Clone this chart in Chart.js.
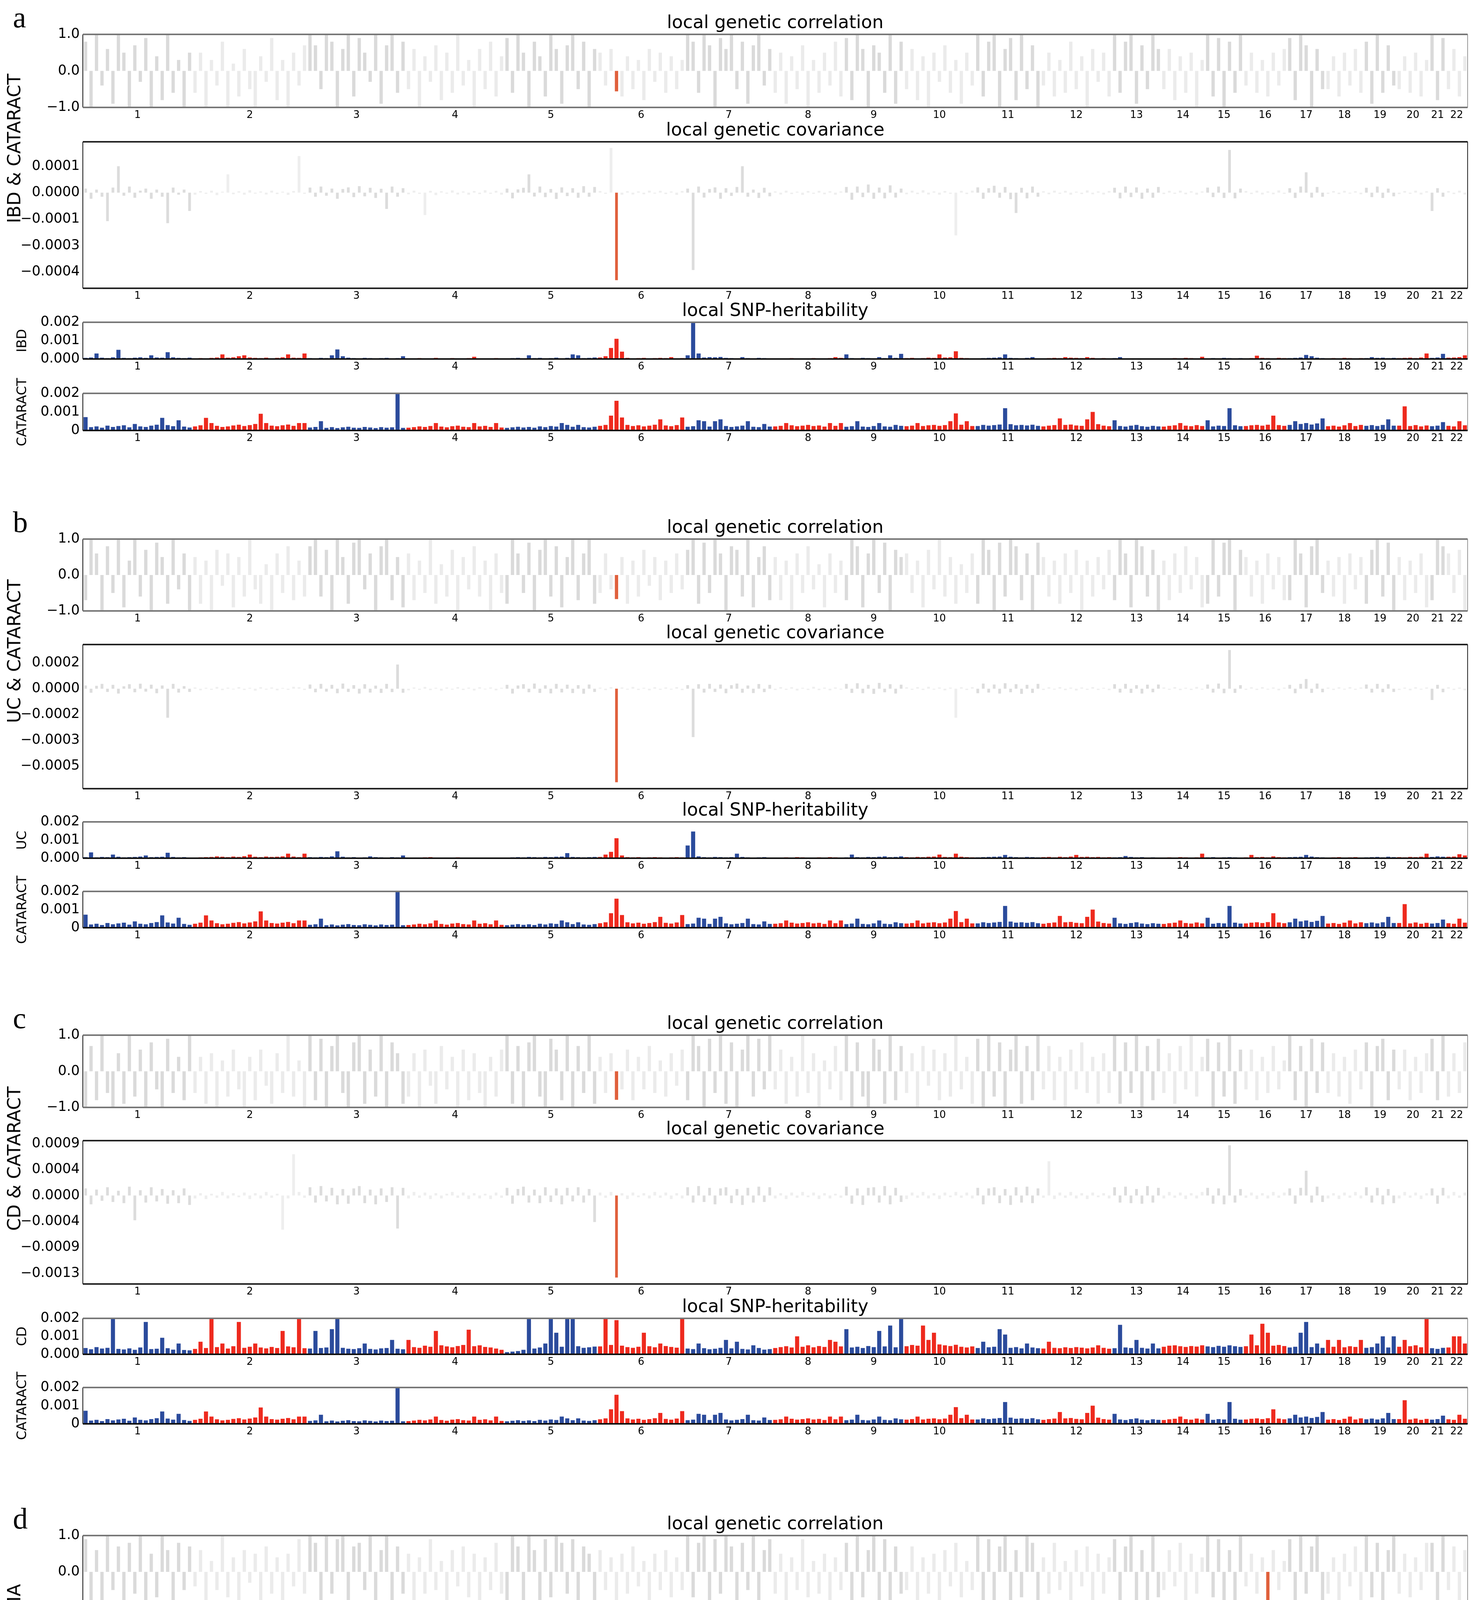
<!DOCTYPE html>
<html>
<head>
<meta charset="utf-8">
<script src="https://cdn.jsdelivr.net/npm/chart.js@4.4.1/dist/chart.umd.min.js"></script>
<style>
  html, body { margin: 0; padding: 0; background: #fff; overflow: hidden; }
  #page { position: relative; width: 3780px; height: 4984px; font-family: "DejaVu Sans", sans-serif; color: #000; }
  #page canvas { position: absolute; left: 0; }
  .ttl { position: absolute; text-align: center; font-size: 46px; line-height: 46px; white-space: nowrap; }
  .rot { position: absolute; transform: translate(-50%, -50%) rotate(-90deg); white-space: nowrap; line-height: 1; }
  .big { font-size: 46px; }
  .small { font-size: 34px; }
  .let { position: absolute; font-family: "Liberation Serif", serif; font-size: 76px; line-height: 76px; }
</style>
</head>
<body>
<div id="page"></div>
<script>
// ---- data -------------------------------------------------------------
const chromNames = ['1','2','3','4','5','6','7','8','9','10','11','12','13','14','15','16','17','18','19','20','21','22'];
const chromBins = [20,21,18,18,17,16,16,13,11,13,12,13,9,8,7,8,7,7,6,6,3,4];

// local SNP-heritability, units of 1e-4, one row per chromosome
const h2IBD = [
  [0.6,0.8,3,0.7,0.5,0.9,5,0.6,0.5,0.7,0.9,0.6,2,0.8,0.7,3.7,0.9,0.6,0.5,0.7],
  [0.4,0.5,0.3,0.6,0.8,2.5,0.7,0.9,1.5,2,0.8,0.6,0.5,0.7,0.4,0.6,0.9,2.5,0.7,0.6,3],
  [0.5,0.4,0.6,0.5,2,5.2,1.5,0.7,0.5,0.4,0.6,0.5,0.4,0.5,0.6,0.4,0.5,1.5],
  [0.3,0.4,0.5,0.3,0.4,0.6,0.4,0.3,0.5,0.4,0.3,0.5,1.2,0.4,0.3,0.4,0.5,0.3],
  [0.4,0.5,0.6,0.4,2,0.5,0.6,0.4,0.5,0.7,0.4,0.6,2.5,2,0.5,0.6,0.8],
  [0.8,1.5,6,11,4,0.6,0.4,0.5,0.6,0.4,0.5,0.6,0.5,1,0.4,0.5],
  [2,21,3,0.8,1,0.9,1.1,0.6,0.5,0.4,1,0.5,0.4,0.6,0.5,0.4],
  [0.3,0.4,0.3,0.5,0.4,0.3,0.4,0.5,0.3,0.4,0.5,1,0.6],
  [2.5,0.5,0.4,0.6,0.5,0.4,1,0.5,2,0.6,2.8],
  [0.5,0.6,0.4,0.5,0.7,0.6,2.5,0.8,0.9,4.2,0.6,0.5,0.4],
  [0.4,0.5,0.6,0.7,0.9,2.5,0.6,0.5,0.4,0.6,1,0.4],
  [0.4,0.5,0.6,0.5,1,0.7,0.6,0.5,1,0.6,0.4,0.5,0.4],
  [0.5,1,0.4,0.3,0.4,0.3,0.4,0.3,0.4],
  [0.3,0.4,0.5,0.4,0.6,0.5,0.4,1.2],
  [0.4,0.5,0.4,0.6,0.5,0.4,0.5],
  [0.4,0.5,1.8,0.6,0.5,0.4,0.6,0.5],
  [0.5,0.6,0.8,2.2,1.5,0.7,0.5],
  [0.4,0.5,0.4,0.6,0.5,0.4,0.5],
  [0.5,1,0.6,0.7,0.5,0.6],
  [0.5,0.6,0.7,0.5,0.8,3],
  [0.6,0.8,2.8],
  [0.7,0.8,1,2]
];
const h2CATARACT = [
  [7.2,1.8,2.2,1.5,2.6,1.9,2.4,2.8,1.7,3.5,2.2,1.9,2.6,3.1,6.8,2.9,2.3,5.5,2.1,1.6],
  [2.2,2.8,6.8,4,2.5,1.9,2.2,2.7,3.1,2.4,2.9,3.5,9,4,2.6,2.3,2.8,3.2,2.5,4,4],
  [1.6,1.9,5,1.4,1.8,1.3,1.7,2,1.5,1.4,1.9,1.6,1.3,1.8,1.5,1.7,21,1.4],
  [1.5,1.8,2.2,1.9,2.4,4,2.1,1.7,2.3,2.6,2,1.8,4,2.2,2.5,1.9,4,1.6],
  [1.4,1.7,2,1.6,1.9,1.5,2.2,1.8,2.4,2.1,4,3,2,3,1.8,1.6,2],
  [2.5,3,8,16,7,3,2.4,2.8,2.2,2.6,3.1,6,2.7,2.3,2.9,7],
  [2,2.3,5.5,5,2.1,5,6,2.4,1.9,2.2,2.6,5,2,1.8,3.5,2.1],
  [2.2,2.5,4,2.8,2.3,2.6,3,2.4,2.7,2.1,4,2.5,4],
  [2,2.3,5,2.1,1.9,2.4,4,2.2,2,3,2.5],
  [2.3,2.6,4,2.4,2.8,3,2.5,2.9,5,9.2,3.1,5,2.4],
  [2.4,3,2.6,2.9,3.2,12,3.4,2.8,3,2.7,3.1,2.5],
  [2.2,2.6,2.9,6.5,3,3.2,2.7,2.5,6,10,3.4,2.6,2.3],
  [5.5,2.4,2.1,2.6,3,2.3,2,2.5,2.2],
  [2.1,2.5,2.8,4,2.6,2.3,2.9,2.4],
  [5.5,2.2,2.6,2.4,12,2.8,2.3],
  [2.4,2.8,3,2.6,3.1,8,2.9,2.5],
  [3,5,3.5,4,3.2,3.8,6.5],
  [2.3,2.6,2.1,2.8,4,2.4,3],
  [2.5,2.9,2.4,3,6,2.6],
  [2.6,13,2.4,2.9,2.2,2.7],
  [2.3,2.6,4.5],
  [2.5,2.2,5,2.8]
];
const h2UC = [
  [0.6,3.2,0.5,0.7,0.6,2,0.8,0.5,0.6,0.7,0.9,1.5,0.6,0.7,0.8,3,0.7,0.5,0.6,0.4],
  [0.4,0.5,0.6,0.7,1,0.8,0.6,0.9,0.7,1.1,2,0.8,0.6,0.9,0.7,0.8,1,2.5,0.9,0.6,2.5],
  [0.6,0.5,0.7,0.6,1,3.8,0.8,0.5,0.6,0.4,0.5,1,0.6,0.5,0.4,0.6,0.5,1.5],
  [0.3,0.4,0.3,0.5,0.6,0.4,0.3,0.4,0.3,0.5,0.4,0.3,0.4,0.3,0.4,0.3,0.4,0.3],
  [0.4,0.5,0.6,0.5,0.7,0.6,0.5,0.7,0.6,0.8,0.9,2.8,0.7,0.6,0.5,0.6,0.7],
  [0.7,2,3.5,11,1.5,0.6,0.5,0.6,0.4,0.5,0.6,0.5,0.4,0.5,0.6,0.5],
  [7,14.7,1,0.6,0.5,0.7,0.6,0.5,0.6,2.5,0.7,0.5,0.4,0.5,0.6,0.4],
  [0.3,0.4,0.5,0.4,0.6,0.5,0.4,0.3,0.5,0.4,0.6,0.5,0.4],
  [0.5,2,0.6,0.5,0.7,0.6,0.8,1,0.6,0.7,1],
  [0.6,0.5,0.7,0.6,0.8,0.9,2,0.7,0.6,2.5,0.8,0.6,0.5],
  [0.5,0.6,0.7,0.8,0.9,1.8,0.8,0.6,0.5,0.7,0.6,0.5],
  [0.6,0.7,0.5,0.8,0.6,0.9,1.8,0.7,0.8,0.6,0.7,0.5,0.6],
  [0.5,0.6,1.2,0.7,0.5,0.6,0.4,0.5,0.4],
  [0.4,0.5,0.4,0.6,0.5,0.4,0.5,2.5],
  [0.5,0.6,0.4,0.5,0.6,0.5,0.4],
  [0.5,1.8,0.6,0.7,0.5,1,0.6,0.5],
  [0.6,0.7,0.8,1.8,0.9,0.6,0.5],
  [0.4,0.5,0.6,0.4,0.5,0.6,0.4],
  [0.5,0.6,0.7,0.5,0.8,0.6],
  [0.6,0.5,0.7,0.6,0.8,2.5],
  [0.7,1,0.8],
  [0.8,0.9,2.2,1.5]
];
const h2CD = [
  [3.5,2.8,4,3.2,3.6,22,3,2.7,3.3,2.5,3.8,18,2.9,3.1,9.2,3.4,2.6,6,2.4,2.2],
  [3,7,3.5,22,4,6,3.2,4.5,18,3.6,4.2,6,3.8,3.3,4.1,3.5,13,4.4,3.9,22,3.4],
  [3.2,13,3.5,3.8,14,22,3.6,3.1,2.9,3.4,6,3,2.7,3.3,3.5,8,3.1,2.8],
  [8,4,3.6,4.8,4.2,13,5,4.4,3.9,4.6,5.2,13.7,4.5,5,4.1,3.8,3.2,2.5],
  [1.2,1.5,1.8,2.5,22,3.2,3.8,6,22,12,4.2,22,22,4.5,3.6,3.9,4.3],
  [4.4,22,5.2,19,4.8,4,3.6,4.2,12,4.5,3.9,6,4.6,4.1,3.7,22],
  [3.2,2.9,6,3.4,2.8,3.1,3.6,8,3.3,7,3,2.7,5,3.5,2.6,2.9],
  [3.5,4,4.5,3.8,10,4.2,5,3.9,4.6,4.1,8,7,4.4],
  [14,3.8,4.2,3.5,4.6,4,13,4.4,16,3.9,22],
  [4.5,5.2,4.8,16,8,12,5.5,5,4.6,5.3,4.2,3.8,4.4],
  [3.5,7,3.9,4.2,14,11,3.6,4,3.3,6,3.8,3.4],
  [3.2,7,3.6,3.4,3.9,3.5,4,3.7,3.3,3.8,5,3.6,3.1],
  [3.4,16.4,3.8,3.5,8,3.6,3.2,6,3.3],
  [4.2,4.8,5,4.5,4.1,4.6,4.3,5],
  [4.4,4,4.7,4.2,5,4.5,4.1],
  [4.5,11,5,17,12,4.8,5.2,4.6],
  [3.8,4.2,12,18,4,6,3.6],
  [8,4.2,8,3.9,4.5,4.1,8],
  [3.6,4,6,10,3.8,10],
  [4.2,8,4.5,5,3.9,22],
  [3.4,3,3.6],
  [3.8,10,10,6]
];
const h2GLAUCOMA = [
  [2,0.8,0.6,0.9,0.7,1,0.8,6.5,0.7,0.9,1.1,9.1,0.8,0.6,0.9,0.7,1,0.6,0.5,0.7],
  [0.6,2,0.8,0.7,0.9,0.6,1,0.8,0.7,2,0.9,0.6,0.8,1,0.7,0.9,0.6,0.8,0.7,3,0.6],
  [0.7,0.9,1.1,0.8,1,4,1.2,0.9,1,5,0.8,0.7,0.9,0.6,0.8,0.7,0.9,0.6],
  [0.8,5.7,0.9,0.7,1,0.8,0.6,0.9,0.7,0.8,1,0.6,0.7,0.9,0.5,0.6,0.8,0.5],
  [0.6,0.7,0.5,0.8,0.9,3,1,0.7,0.8,0.6,0.9,0.7,1,0.8,0.6,0.7,0.9],
  [6,0.9,0.8,1,0.7,0.9,1.1,0.8,0.7,0.9,0.6,0.8,1,0.7,0.6,0.8],
  [0.7,0.8,2,0.6,0.9,0.7,0.8,0.6,0.9,0.7,3,0.8,0.6,0.5,0.7,0.6],
  [1.2,1.5,1.3,1.1,1.4,2,1.6,1.2,1.3,1.5,1.1,1.4,1],
  [0.8,0.9,12.9,0.7,1,0.8,0.9,5,1.1,0.8,0.7],
  [0.9,1,0.8,1.1,0.9,1,6,1.2,0.8,0.9,1,0.7,0.8],
  [0.8,0.9,1,0.7,3,1.1,0.9,0.8,1,0.7,0.9,0.8],
  [0.9,1,0.8,1.1,0.9,1.2,1,10,4,1.1,0.9,0.8,0.7],
  [0.7,0.8,2,0.9,0.7,0.8,0.6,0.7,0.8],
  [0.8,0.9,0.7,8.2,1,0.8,0.9,0.7],
  [0.6,0.8,0.7,0.9,3,1.2,0.7],
  [0.7,0.8,0.9,0.7,5,0.8,0.9,4.5],
  [0.9,4,1,0.8,0.9,0.7,0.8],
  [0.6,0.7,0.5,0.8,0.6,0.7,0.5],
  [0.7,2,0.8,0.6,0.9,0.7],
  [4.5,0.8,0.7,0.9,0.6,0.8],
  [0.7,0.9,0.8],
  [2,8.5,1.2,0.9]
];

// local genetic correlation
const rgIBDxCAT = [
  [0.8,-1,1,-0.4,0.6,-0.9,1,0.5,-1,0.7,-0.3,0.9,-1,0.4,-0.8,1,-0.6,0.3,-1,0.5],
  [-0.6,0.5,-1,0.3,-0.4,0.8,-1,0.2,-0.7,0.6,-0.5,-1,0.4,-0.3,0.9,-0.8,0.3,-1,0.5,-0.4,0.7],
  [1,0.7,-0.5,1,0.8,-1,0.6,1,-0.7,0.9,0.5,-0.3,1,-0.9,0.7,1,-0.6,0.8],
  [-0.5,0.6,-1,0.4,-0.3,0.7,-0.8,0.5,-0.6,1,-0.4,0.3,-1,0.6,-0.5,0.8,-0.7,0.4],
  [0.9,-0.6,1,0.5,-1,0.8,0.4,-0.7,1,0.6,-0.9,0.7,1,-0.5,0.8,-1,0.6],
  [0.5,-0.4,0.6,-0.56,-0.7,0.4,-0.5,0.3,-0.8,0.6,-0.3,0.5,-0.6,0.4,-0.5,0.3],
  [1,0.8,-0.6,1,0.7,-1,0.9,0.6,1,-0.5,0.8,-0.9,0.7,1,-0.4,0.6],
  [-0.6,0.5,-0.9,0.4,-0.5,0.7,-1,0.3,-0.6,0.5,-0.4,0.8,-0.7],
  [0.9,-0.8,1,0.6,-1,0.7,0.5,-0.6,1,-0.9,0.8],
  [-0.5,0.6,-0.8,0.4,-1,0.5,-0.3,0.7,-0.6,0.3,-0.9,0.5,-0.4],
  [1,-0.7,0.8,1,-1,0.6,0.9,-0.8,1,-0.5,0.7,-1],
  [-0.4,0.5,-0.7,0.3,-0.6,0.8,-0.5,0.4,-1,0.6,-0.3,0.5,-0.7],
  [1,-0.6,0.8,1,-0.9,0.7,-0.5,1,0.6],
  [-0.5,0.6,-0.8,0.4,-0.6,0.5,-1,0.3],
  [1,-0.7,0.9,-1,0.8,-0.6,1],
  [-0.4,0.5,-0.6,0.3,-0.7,0.5,-0.4,0.6],
  [0.9,-0.8,1,0.7,-1,0.6,-0.5],
  [-0.5,0.4,-0.7,0.5,-0.4,0.6,-0.6],
  [0.8,-0.9,1,-0.6,0.7,-0.4],
  [-0.5,0.4,-0.6,0.5,-0.7,0.3],
  [1,-0.8,0.9],
  [-0.5,0.6,-0.7,0.4]
];
const rgUCxCAT = [
  [-0.7,1,0.6,-1,0.8,-0.5,1,-0.9,0.4,1,-0.6,0.7,-1,0.9,0.5,-0.8,1,-0.4,0.6,-1],
  [0.5,-0.8,0.4,-1,0.7,-0.3,0.6,-0.9,0.5,-0.6,1,-0.4,-0.8,0.3,-1,0.6,-0.5,0.8,-0.7,0.4,-0.6],
  [0.8,1,-0.6,0.7,-1,1,0.5,-0.8,0.9,1,-0.4,0.6,-1,0.8,1,-0.7,0.5,-0.9],
  [0.6,-0.7,0.4,-0.5,1,-0.8,0.3,-0.6,0.7,-1,0.5,-0.4,0.8,-0.6,0.4,-1,0.6,-0.5],
  [-0.8,1,0.6,-0.5,0.9,-1,0.7,1,-0.6,0.8,-0.9,0.5,1,-0.7,0.6,1,-0.8],
  [-0.5,0.6,-0.4,-0.67,0.5,-0.8,0.4,-0.6,0.7,-0.3,0.5,-0.7,0.4,-0.5,0.6,-0.4],
  [0.7,1,-0.8,0.9,-0.5,1,0.6,-1,0.8,0.7,-0.6,1,-0.9,0.5,0.8,-0.7],
  [0.5,-0.7,0.4,-1,0.6,-0.5,0.8,-0.4,0.3,-0.9,0.6,-0.5,0.4],
  [-0.7,1,0.8,-0.9,0.6,1,-0.5,0.9,-1,0.7,0.5],
  [0.6,-0.5,0.4,-0.9,0.7,-0.4,1,-0.6,0.5,-0.8,0.3,-0.5,0.6],
  [-0.8,1,0.7,-1,0.9,-0.6,1,0.8,-0.7,0.6,-1,0.9],
  [0.5,-0.6,0.4,-0.8,0.6,-0.5,0.7,-1,0.4,-0.6,0.5,-0.4,0.7],
  [-0.7,1,0.6,-0.9,1,0.8,-0.6,0.7,-1],
  [0.4,-0.7,0.6,-0.5,0.8,-0.4,0.5,-0.9],
  [-0.8,1,-0.6,0.9,1,-1,0.7],
  [0.5,-0.6,0.4,-0.8,0.6,-0.4,0.5,-0.7],
  [-0.7,1,0.6,-0.9,0.8,1,-0.5],
  [0.4,-0.6,0.5,-0.8,0.6,-0.4,0.5],
  [-0.8,0.7,1,-0.6,0.9,-1],
  [0.5,-0.7,0.4,-0.5,0.6,-0.9],
  [-0.7,1,0.8],
  [0.6,-0.5,0.7,-1]
];
const rgCDxCAT = [
  [-1,0.7,-0.8,1,-0.6,-1,0.5,-0.9,1,-0.7,0.6,-1,0.8,-0.5,-1,0.9,-0.6,0.4,-0.8,1],
  [-0.6,0.4,-0.9,0.5,-1,0.3,-0.7,0.6,-0.5,-1,0.4,-0.8,0.6,-0.4,-0.9,0.5,-0.6,1,-0.7,0.3,-1],
  [1,-0.8,0.9,-1,0.7,1,-0.6,-1,0.8,1,-0.9,0.6,-0.7,1,-1,0.8,0.5,-0.9],
  [-0.7,0.5,-1,0.6,-0.4,-0.9,0.7,-0.5,0.4,-1,0.6,-0.8,0.5,-0.6,-1,0.4,-0.7,0.6],
  [1,-0.9,0.7,-1,0.8,1,-0.7,-1,0.9,0.6,-0.8,1,-1,0.7,-0.6,1,-0.9],
  [0.4,-0.6,0.5,-0.79,-0.5,0.6,-0.8,0.4,-0.5,0.7,-0.6,0.3,-0.7,0.5,-0.4,0.6],
  [-0.8,1,0.7,-1,0.9,-0.6,1,-0.9,0.8,-1,0.6,1,-0.7,0.9,-0.5,1],
  [-0.5,0.6,-0.9,0.4,-0.7,1,-0.6,0.5,-1,0.3,-0.5,0.7,-0.8],
  [1,-1,0.8,-0.7,-1,0.9,0.6,-0.9,1,-0.8,0.7],
  [-0.6,0.5,-1,0.7,-0.4,0.6,-0.8,0.5,-0.7,1,-0.5,0.4,-0.9],
  [0.9,-1,1,-0.7,0.8,-1,0.6,1,-0.9,0.7,-0.8,1],
  [-0.5,0.7,-0.8,0.4,-1,0.6,-0.5,0.8,-0.6,0.4,-0.9,0.5,-0.6],
  [1,-0.9,0.8,-0.6,1,-1,0.7,-0.8,0.9],
  [-0.6,0.5,-0.9,0.7,-0.5,1,-0.7,0.4],
  [0.9,-1,0.8,-0.7,1,-0.9,0.6],
  [-0.5,0.6,-0.8,0.4,-0.6,0.7,-0.5,0.3],
  [1,-0.8,0.7,-1,0.9,-0.6,0.8],
  [-0.6,0.5,-0.7,0.4,-0.9,0.6,-0.5],
  [0.8,-1,0.7,0.9,-0.8,0.6],
  [-0.5,0.6,-0.8,0.4,-0.6,0.5],
  [0.9,-0.8,1],
  [-0.7,0.5,-0.6,0.8]
];
const rgCDxGLA = [
  [0.9,-1,0.6,-0.8,1,-0.5,0.7,-1,0.8,-0.6,1,-0.9,0.5,-0.7,1,0.6,-1,0.8,-0.5,0.7],
  [-0.4,0.6,-0.8,0.3,-0.5,1,-0.7,0.4,-0.9,0.6,-0.3,0.5,-1,0.7,-0.6,0.4,-0.8,0.5,-0.4,0.9,-0.6],
  [1,0.8,-0.9,1,-0.6,0.9,1,-1,0.7,0.8,-0.5,1,-0.8,0.6,1,-0.9,0.7,-0.6],
  [0.5,-0.8,0.4,-0.6,0.9,-0.5,0.3,-1,0.6,-0.4,0.7,-0.7,0.5,-0.9,0.4,-0.5,0.8,-0.6],
  [-0.9,1,0.7,-0.8,1,0.6,-1,0.9,-0.7,1,0.8,-0.6,0.9,-1,0.7,0.5,-0.8],
  [0.6,-0.5,0.4,-0.8,0.5,-0.6,0.7,-0.4,0.3,-0.9,0.5,-0.5,0.6,-0.7,0.4,-0.5],
  [1,-0.7,0.8,1,-1,0.9,-0.6,1,0.7,-0.9,0.8,-0.5,1,-0.8,0.6,0.9],
  [-0.6,0.5,-0.8,0.4,-0.5,0.9,-0.7,0.3,-0.6,0.5,-1,0.4,-0.5],
  [0.8,-0.9,1,-0.7,0.6,1,-1,0.9,-0.8,0.7,-0.6],
  [-0.5,0.7,-0.9,0.4,-0.6,0.5,-1,0.6,-0.4,0.8,-0.7,0.3,-0.5],
  [1,-0.8,0.9,-1,0.7,1,-0.9,0.6,-0.7,1,0.8,-1],
  [0.4,-0.6,0.8,-0.5,0.3,-0.9,0.6,-0.4,0.7,-0.8,0.5,-0.6,0.4],
  [0.9,-1,0.7,1,-0.8,0.6,-0.9,1,-0.7],
  [-0.5,0.6,-0.4,0.8,-0.9,0.5,-0.6,0.4],
  [1,-0.7,0.9,-1,0.6,-0.8,1],
  [-0.4,0.5,-0.6,0.4,-0.95,0.6,-0.5,0.3],
  [0.9,-0.8,1,-0.6,0.7,1,-0.9],
  [-0.6,0.4,-0.8,0.5,-0.4,0.7,-1],
  [1,-0.7,0.8,-0.9,0.6,1],
  [-0.6,0.5,-0.7,0.4,-0.5,0.8],
  [0.8,-0.9,1],
  [-0.5,0.7,-0.8,0.6]
];

// local genetic covariance, units of 1e-5
const covIBDxCAT = [
  [2,-3,1.5,-2,-14,2.5,13,-1.5,3,-2.5,1,2,-3,1.5,-2,-15,2.5,-1,1.5,-9],
  [-1,0.8,-0.6,1,-1.2,0.5,9,-0.8,0.7,-1,1.2,-0.5,0.6,-0.9,1,-0.7,0.5,-1.1,0.8,18,-0.6],
  [2.5,-2,3,-1.5,2,-3,1.8,2.6,-2.2,3.2,-1.8,2.4,-2.6,1.9,-8,3,-2,2.2],
  [-0.8,1,-0.6,-11,0.9,-1.2,0.7,-0.5,1.1,-0.9,0.6,-1,0.8,-0.7,1.2,-0.6,0.9,-1],
  [2,-2.8,1.6,2.4,9,-1.9,3,-2.2,1.8,-3.1,2.6,-1.7,2.2,-2.5,3.2,-2,2.8],
  [0.8,-0.6,22,-43,-1,0.7,-0.9,0.6,-0.8,1,-0.5,0.9,-0.7,0.6,-1.1,0.8],
  [2,-38,3,-2.4,1.8,2.6,-3,2.2,-1.6,2.8,13,-2,1.5,-2.6,2.4,-1.8],
  [0.6,-0.9,1,-0.7,0.5,-1.1,0.8,-0.6,0.9,-0.8,0.7,-1,0.6],
  [2.8,-3.5,3,-2.2,4,-3,2.5,-2.8,3.6,-2.4,2],
  [-0.8,1,-0.7,1.2,-0.9,0.6,-1,0.8,-0.6,-21,0.9,-0.7,1],
  [2.6,-3,2.2,3.4,-2.5,2.8,-3.2,-10,2.4,-2.8,3,-2],
  [0.7,-0.8,1,-0.6,0.9,-1,0.5,-0.7,1.1,-0.8,0.6,-0.9,0.8],
  [2.4,-2.8,3,-2.2,2.6,-3,2,-2.5,2.8],
  [-0.7,0.9,-0.6,1,-0.8,0.7,-1,0.6],
  [2.5,-2.2,3,-2.6,21,-2.8,2],
  [0.8,-0.7,1,-0.9,0.6,-0.8,1.1,-0.6],
  [2.2,-2.6,3,10,-2.4,2.8,-2],
  [-0.6,0.8,-0.7,0.9,-0.5,0.7,-0.8],
  [2.4,-2.2,3,-2.6,2,-1.8],
  [-0.7,0.8,-0.6,1,-0.9,0.7],
  [-9,2.2,-2],
  [0.8,-0.7,1,-0.9]
];
const covUCxCAT = [
  [2,-2.5,1.8,3,-2,2.4,-3,1.5,2.8,-2.2,3.1,-1.8,2.5,-2.8,2,-18,3,-2.4,1.6,-2],
  [0.8,-1,0.6,-0.7,1.1,-0.9,0.7,-0.5,1,-0.8,0.6,-1.2,0.9,-0.6,0.8,-1,0.5,-0.7,1.2,0.9,-0.8],
  [2.6,-2.2,3,-1.8,2.4,-2.8,3.2,-2,2.2,-3,2.8,-2.4,1.9,-2.6,3,-2.1,15,-2.5],
  [-1,0.8,-0.7,1.1,-0.9,0.6,-1.2,0.8,-0.6,1,-0.8,0.7,-1.1,0.9,-0.5,0.8,-1,0.6],
  [2.4,-3,2,2.8,-2.2,3.2,-2.6,2.1,-2.9,3,-2.3,2.5,-2.7,2.2,-3.1,2.6,-2],
  [0.7,-0.9,1,-58,0.8,-0.6,1.1,-0.8,0.6,-1,0.9,-0.7,0.8,-0.6,1,-0.9],
  [2.2,-30,2.8,-2.4,3,-2,2.6,-2.8,2.2,3.2,-2.5,2,-2.7,2.9,-2.1,2.4],
  [-0.8,1,-0.7,0.9,-1.1,0.6,-0.8,1.2,-0.9,0.7,-1,0.8,-0.6],
  [3,-2.6,3.4,-2.8,2.4,-3.2,3.6,-2.2,2.8,-3,2.5],
  [0.9,-0.7,1,-0.8,1.2,-0.6,0.8,-1,0.7,-18,0.9,-0.8,1],
  [-2.8,3.2,-2.4,2.6,-3,3.4,-2.2,2.8,-3.2,2.4,-2.6,3],
  [-0.8,0.9,-0.6,1,-0.9,0.7,-1.1,0.8,-0.7,1,-0.8,0.6,-0.9],
  [2.8,-2.4,3,-2.6,2.2,-3,2.5,-2.2,2.6],
  [0.8,-0.7,1,-0.9,0.6,-0.8,1.1,-0.6],
  [2.6,-2.4,3.2,-2.8,24,-2.6,2.2],
  [-0.7,0.9,-0.8,1,-0.6,0.8,-1,0.7],
  [2.4,-2.8,3,6,-2.6,3.2,-2.2],
  [0.7,-0.8,0.9,-0.6,1,-0.7,0.8],
  [2.6,-2.4,3,-2.2,2.8,-2],
  [-0.8,0.7,-1,0.9,-0.6,0.8],
  [-7,2.4,-2.2],
  [0.9,-0.8,0.7,-1]
];
const covCDxCAT = [
  [12,-15,10,-9,14,-11,8,-13,15,-42,9,-12,14,-10,11,-14,9,-13,12,-16],
  [-5,4,-6,3,-4,6,-5,4,-3,5,-6,4,-5,6,-4,3,-58,-5,70,6,-4],
  [14,-12,16,-10,13,-15,11,-14,12,16,-13,10,-15,12,-11,14,-56,13],
  [-5,6,-4,5,-6,4,-5,3,6,-4,5,-6,4,-5,3,-6,5,-4],
  [13,-14,11,15,-12,10,-13,14,-11,12,-15,13,-10,14,-12,11,-45],
  [5,-4,6,-139,4,-6,5,-3,4,-5,6,-4,5,-6,4,-5],
  [14,-12,16,-11,13,-15,12,14,-13,11,-16,13,-12,15,-11,14],
  [-5,4,-6,5,-4,6,-3,5,-6,4,-5,3,-4],
  [15,-14,12,-16,13,14,-12,16,-15,13,-11],
  [-6,5,-4,6,-5,4,-6,5,-3,6,-4,5,-5],
  [13,-15,12,14,-13,11,-16,14,-12,15,-13,12],
  [-4,58,-6,5,-4,6,-5,4,-6,5,-3,4,-5],
  [14,-12,15,-13,11,-14,16,-12,13],
  [-5,6,-4,5,-6,4,-5,6],
  [13,-14,12,-15,85,-12,11],
  [-4,5,-6,4,-5,6,-4,5],
  [12,-14,13,42,-12,15,-11],
  [-5,4,-6,5,-4,6,-5],
  [14,-12,13,-15,11,-13],
  [-5,6,-4,5,-6,4],
  [12,-14,13],
  [-5,6,-4,5]
];
const covCDxGLA = [
  [8,-7,9,-6,7,-43,8,-9,6,-8,7,-5,9,-7,6,-8,5,-9,7,-6],
  [-3,4,-2,3,-4,2,-3,4,-2,3,-4,3,-2,4,-3,2,-4,3,-2,4,-3],
  [9,-8,7,-9,8,6,-7,9,-6,-26,8,7,-9,8,-7,6,-8,7],
  [37,-3,4,-2,3,-4,2,-3,4,-2,3,-4,2,-3,4,-2,3,-4],
  [8,-9,7,6,-8,9,-7,8,-6,7,-9,-59,8,-7,9,-8,6],
  [3,-4,2,-3,4,-2,3,-4,2,-3,4,-2,3,-4,2,-3],
  [9,-7,8,-9,6,8,-8,7,-6,9,-7,8,-9,6,-8,7],
  [-3,4,-2,3,-4,2,-3,4,-2,3,-4,2,-3],
  [8,-9,7,-8,9,-7,6,-9,8,-7,36],
  [-4,3,-2,4,-3,-35,2,50,-4,3,-2,4,-3],
  [9,-8,7,-9,8,6,-7,9,-8,7,-6,8],
  [-3,4,-2,3,-4,2,-3,4,-2,3,-4,2,-3],
  [8,-9,7,-8,9,-7,6,-8,7],
  [-4,3,-2,4,-3,2,-4,3],
  [9,-7,8,-6,9,-8,7],
  [-3,4,-2,3,-82,2,-4,3],
  [8,-7,9,-8,6,7,-9],
  [-3,4,-2,3,-4,2,-3],
  [8,-7,9,43,-8,6],
  [-3,4,-2,3,-4,2],
  [7,-42,8],
  [-3,4,-2,3]
];

// significant block per panel: [chromosome, block within chromosome]
const sigBlocks = [[6, 3], [6, 3], [6, 3], [16, 4]];

// tick values and labels
const corrTicks = [-1, 0, 1];
const corrTickLabels = ['\u22121.0', '0.0', '1.0'];
const covRanges = [[-0.00047, 0.00025], [-0.00062, 0.000274], [-0.0015, 0.00093], [-0.00089, 0.000543]];
const covTicks = [
  [-0.00039, -0.00026, -0.00013, 0, 0.00013],
  [-0.00048, -0.00032, -0.00016, 0, 0.00016],
  [-0.00132, -0.00088, -0.00044, 0, 0.00044, 0.00088],
  [-0.00078, -0.00052, -0.00026, 0, 0.00026, 0.00052]
];
const covTickLabels = [
  ['\u22120.0004', '\u22120.0003', '\u22120.0001', '0.0000', '0.0001'],
  ['\u22120.0005', '\u22120.0003', '\u22120.0002', '0.0000', '0.0002'],
  ['\u22120.0013', '\u22120.0009', '\u22120.0004', '0.0000', '0.0004', '0.0009'],
  ['\u22120.0008', '\u22120.0005', '\u22120.0003', '0.0000', '0.0003', '0.0005']
];
const h2Ticks = [0, 0.001, 0.002];
const h2TickLabelsA = ['0.000', '0.001', '0.002'];
const h2TickLabelsB = ['0', '0.001', '0.002'];

// ---- layout (pixels of the final picture) ------------------------------
const W = 3780;
const AX_L = 212, AX_R = 3756;
const PAD_T = 30, XAX_H = 50;

const panels = [
  { letter: 'a', pair: 'IBD & CATARACT', pairY: 380, corr: [88, 275], cov: [363, 738], h1: [825, 919], h2: [1007, 1102],
    rg: rgIBDxCAT, gcov: covIBDxCAT, t1: 'IBD', s1: h2IBD, l1: h2TickLabelsA, t2: 'CATARACT', s2: h2CATARACT, l2: h2TickLabelsB },
  { letter: 'b', pair: 'UC & CATARACT', pairY: 1667, corr: [1380, 1564], cov: [1650, 2019], h1: [2104, 2197], h2: [2282, 2375],
    rg: rgUCxCAT, gcov: covUCxCAT, t1: 'UC', s1: h2UC, l1: h2TickLabelsA, t2: 'CATARACT', s2: h2CATARACT, l2: h2TickLabelsB },
  { letter: 'c', pair: 'CD & CATARACT', pairY: 2966, corr: [2650, 2835], cov: [2920, 3287], h1: [3375, 3467], h2: [3552, 3645],
    rg: rgCDxCAT, gcov: covCDxCAT, t1: 'CD', s1: h2CD, l1: h2TickLabelsA, t2: 'CATARACT', s2: h2CATARACT, l2: h2TickLabelsB },
  { letter: 'd', pair: 'CD & GLAUCOMA', pairY: 4255, corr: [3931, 4117], cov: [4202, 4571], h1: [4656, 4751], h2: [4838, 4932],
    rg: rgCDxGLA, gcov: covCDxGLA, t1: 'CD', s1: h2CD, l1: h2TickLabelsA, t2: 'GLAUCOMA', s2: h2GLAUCOMA, l2: h2TickLabelsB }
];

const BLUE = '#2b4b9c', RED = '#ee2a1e', SIG = '#e0603c';

Chart.defaults.font.family = '"DejaVu Sans", sans-serif';
Chart.defaults.color = '#000';

const N = chromBins.reduce((s, n) => s + n, 0);
const chromStart = chromBins.map((n, i) => chromBins.slice(0, i).reduce((s, v) => s + v, 0));
const chromCenter = chromBins.map((n, i) => chromStart[i] + n / 2 - 0.5);

const page = document.getElementById('page');

const framePlugin = {
  id: 'frame',
  afterDatasetsDraw(chart, args, o) {
    const { ctx, chartArea: a } = chart;
    ctx.save();
    ctx.lineWidth = 2;
    ctx.strokeStyle = '#111';
    ctx.beginPath(); ctx.moveTo(a.left, a.top); ctx.lineTo(a.left, a.bottom); ctx.stroke();
    ctx.strokeStyle = o.right;
    ctx.beginPath(); ctx.moveTo(a.right, a.top); ctx.lineTo(a.right, a.bottom); ctx.stroke();
    ctx.lineWidth = 4;
    ctx.strokeStyle = o.top;
    ctx.beginPath(); ctx.moveTo(a.left, a.top); ctx.lineTo(a.right, a.top); ctx.stroke();
    ctx.strokeStyle = o.bottom;
    ctx.beginPath(); ctx.moveTo(a.left, a.bottom); ctx.lineTo(a.right, a.bottom); ctx.stroke();
    ctx.restore();
  }
};

function points(series, unit) {
  const pts = [];
  series.forEach((vals, c) => vals.forEach((v, j) => pts.push({ x: chromStart[c] + j, y: v * unit, c, j })));
  return pts;
}

function addChart(span, pts, colors, yRange, ticks, tickLabels, frame, barPct) {
  const cv = document.createElement('canvas');
  cv.width = W;
  cv.height = PAD_T + (span[1] - span[0]) + XAX_H;
  cv.style.top = (span[0] - PAD_T) + 'px';
  page.appendChild(cv);
  new Chart(cv, {
    type: 'bar',
    data: { datasets: [{ data: pts, backgroundColor: colors, borderWidth: 0, barPercentage: barPct, categoryPercentage: 1 }] },
    options: {
      responsive: false, animation: false, devicePixelRatio: 1,
      layout: { padding: { top: PAD_T, right: W - AX_R, bottom: 0, left: 0 } },
      plugins: { legend: { display: false }, tooltip: { enabled: false }, frame },
      scales: {
        x: {
          type: 'linear', min: -0.5, max: N - 0.5, offset: false,
          grid: { display: false, drawTicks: false }, border: { display: false },
          afterBuildTicks: ax => { ax.ticks = chromCenter.map(v => ({ value: v })); },
          afterFit: ax => { ax.height = XAX_H; },
          ticks: { autoSkip: false, maxRotation: 0, padding: 5, font: { size: 26 }, callback: (v, i) => chromNames[i] }
        },
        y: {
          min: yRange[0], max: yRange[1],
          grid: { display: false, drawTicks: false }, border: { display: false },
          afterBuildTicks: ax => { ax.ticks = ticks.map(v => ({ value: v })); },
          afterFit: ax => { ax.width = AX_L; },
          ticks: { padding: 8, font: { size: 35 }, callback: (v, i) => tickLabels[i] }
        }
      }
    },
    plugins: [framePlugin]
  });
}

function addText(cls, text, css) {
  const d = document.createElement('div');
  d.className = cls;
  d.textContent = text;
  Object.assign(d.style, css);
  page.appendChild(d);
}

function title(text, plotTop) {
  addText('ttl', text, { left: AX_L + 'px', width: (AX_R - AX_L) + 'px', top: (plotTop - 55) + 'px' });
}

panels.forEach((p, k) => {
  const [sc, sj] = sigBlocks[k];
  const grayFor = (pt, dark, light) =>
    (pt.c === sc - 1 && pt.j === sj) ? SIG : (pt.c % 2 === 0 ? dark : light);

  const rgPts = points(p.rg, 1);
  addChart(p.corr, rgPts, rgPts.map(pt => grayFor(pt, '#dadada', '#ebebeb')),
    [-1, 1], corrTicks, corrTickLabels, { top: '#777', bottom: '#777', right: '#999' }, 0.6);

  const covPts = points(p.gcov, 1e-5);
  addChart(p.cov, covPts, covPts.map(pt => grayFor(pt, '#dcdcdc', '#eeeeee')),
    covRanges[k], covTicks[k], covTickLabels[k], { top: '#222', bottom: '#222', right: '#222' }, 0.5);

  const h1Pts = points(p.s1, 1e-4);
  addChart(p.h1, h1Pts, h1Pts.map(pt => pt.c % 2 === 0 ? BLUE : RED),
    [0, 0.002], h2Ticks, p.l1, { top: '#777', bottom: '#111', right: '#999' }, 0.75);

  const h2Pts = points(p.s2, 1e-4);
  addChart(p.h2, h2Pts, h2Pts.map(pt => pt.c % 2 === 0 ? BLUE : RED),
    [0, 0.002], h2Ticks, p.l2, { top: '#777', bottom: '#111', right: '#999' }, 0.75);

  title('local genetic correlation', p.corr[0]);
  title('local genetic covariance', p.cov[0]);
  title('local SNP-heritability', p.h1[0]);

  addText('let', p.letter, { left: '33px', top: (p.corr[0] - 82) + 'px' });
  addText('rot big', p.pair, { left: '36px', top: p.pairY + 'px' });
  addText('rot small', p.t1, { left: '55px', top: ((p.h1[0] + p.h1[1]) / 2) + 'px' });
  addText('rot small', p.t2, { left: '55px', top: ((p.h2[0] + p.h2[1]) / 2) + 'px' });
});
</script>
</body>
</html>
